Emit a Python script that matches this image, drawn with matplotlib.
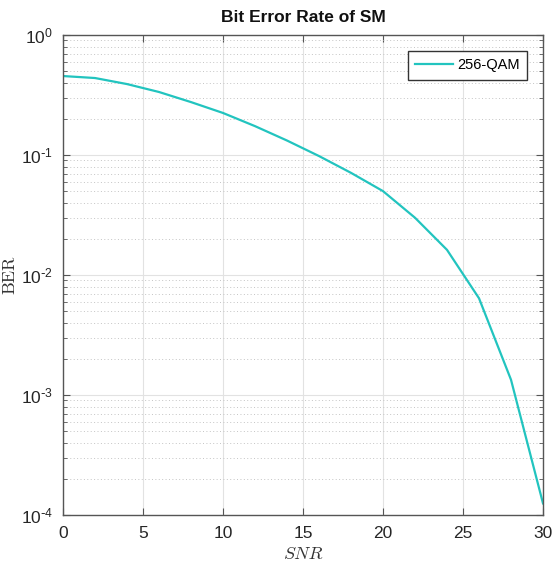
import math
import matplotlib
matplotlib.use("Agg")
import matplotlib.pyplot as plt
from matplotlib.ticker import FixedLocator, LogLocator, FuncFormatter, NullFormatter

snr = [0, 2, 4, 6, 8, 10, 12, 14, 16, 18, 20, 22, 24, 26, 28, 30]
ber = [0.455, 0.438, 0.39, 0.335, 0.276, 0.224, 0.174, 0.132, 0.098, 0.071,
       0.050, 0.030, 0.0162, 0.0064, 0.00134, 0.000125]
series_label = "256-QAM"
x_ticks = [0, 5, 10, 15, 20, 25, 30]
y_exps = [-4, -3, -2, -1, 0]

plt.rcParams['font.family'] = ['Liberation Sans', 'DejaVu Sans']

fig = plt.figure(figsize=(5.52, 5.67), dpi=100)
ax = fig.add_axes([63/552, 52/567, 480/552, 480/567])

ax.semilogy(snr, ber, color='#22c4bf', lw=1.6, label=series_label)

ax.set_xlim(0, 30)
ax.set_ylim(1e-4, 1)
ax.xaxis.set_major_locator(FixedLocator(x_ticks))
ax.yaxis.set_major_locator(FixedLocator([10.0**e for e in y_exps]))
ax.yaxis.set_minor_locator(LogLocator(base=10, subs=range(2, 10), numticks=20))
ax.yaxis.set_minor_formatter(NullFormatter())


def fmt(v, p):
    e = round(math.log10(v))
    if e < 0:
        return r'$\mathregular{10^{\text{-}%d}}$' % (-e)
    return r'$\mathregular{10^{%d}}$' % e


ax.yaxis.set_major_formatter(FuncFormatter(fmt))

ax.grid(True, which='major', color='#e2e2e2', lw=0.8, ls='-')
ax.grid(True, which='minor', axis='y', color='#c4c4c4', lw=0.7, ls=(0, (1, 2.5)))
ax.set_axisbelow(True)

for s in ax.spines.values():
    s.set_color('#555555')
    s.set_linewidth(1.0)
ax.tick_params(which='both', direction='in', top=True, right=True, colors='#555555',
               labelcolor='#262626', labelsize=12.5)
ax.tick_params(which='major', length=5)
ax.tick_params(which='minor', length=3)
ax.tick_params(axis='y', which='major', pad=7)
ax.tick_params(axis='x', which='major', pad=8)

ax.set_title('Bit Error Rate of SM', fontsize=12.5, fontweight='bold', pad=9, color='#111111')
ax.set_xlabel('SNR', fontfamily='cmmi10', fontsize=13, color='#333333')
ax.set_ylabel('BER', fontfamily='cmr10', fontsize=13, color='#333333')
ax.xaxis.set_label_coords(0.5, -0.065)
ax.yaxis.set_label_coords(-0.095, 0.5)

leg = ax.legend(loc='upper right', fontsize=10.5, fancybox=False, framealpha=1,
                edgecolor='#333333', borderaxespad=1.1, handlelength=2.6,
                handletextpad=0.25, borderpad=0.5)
leg.get_frame().set_linewidth(1.0)

fig.savefig('out.png', dpi=100)
